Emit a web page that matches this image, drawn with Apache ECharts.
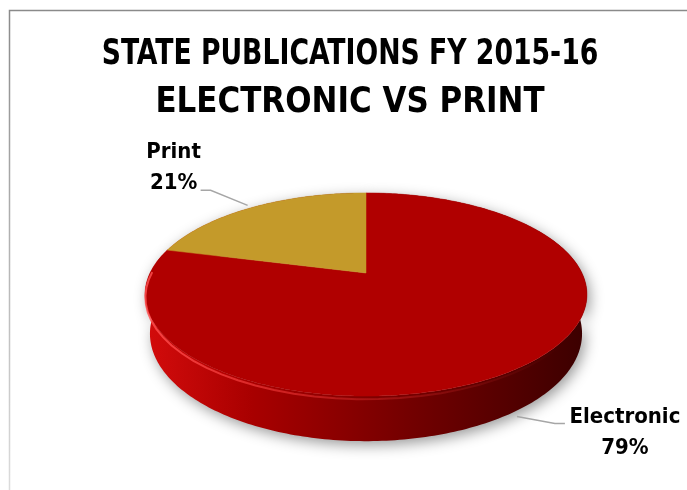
<!DOCTYPE html>
<html>
<head>
<meta charset="utf-8">
<title>State Publications FY 2015-16</title>
<style>
  * { margin: 0; padding: 0; }
  html, body { width: 100%; height: 100%; background: #fff; }
  #pie { width: 687px; height: 490px; }
</style>
</head>
<body>
<div id="pie"></div>
<script src="https://cdn.jsdelivr.net/npm/echarts@6/dist/echarts.min.js"></script>
<script>
var categories = ['Electronic', 'Print'];
var shares = [79, 21];
var titleLines = ['STATE PUBLICATIONS FY 2015-16', 'ELECTRONIC VS PRINT'];

var FONT = "'Liberation Sans Narrow', 'DejaVu Sans Condensed', 'Liberation Sans', sans-serif";
var sliceColors = { Electronic: '#b00000', Print: '#c49a2a' };

// perspective of the tilted disc (fitted by eye to the excel picture)
var cam = { cx: 366, cy: 273, f: 911, D: 4.219, elev: 26.7 * Math.PI / 180, thick: 0.203 };

// label leader layout: nudge from rim point, then elbow, tail, text centre
var labelLayout = {
  Electronic: { onSide: true, nudge: [-4, 8], elbow: [38, 7], tail: [10, 0], text: [60, 9] },
  Print: { onSide: false, nudge: [-5, -2], elbow: [-37, -15], tail: [-10, 0], text: [-27, -23] }
};

// calibri is narrower than any installed font, so each title line gets squeezed
var titleSqueeze = [0.824, 0.956];

function project(u, h, w) {
  var s = Math.sin(cam.elev), c = Math.cos(cam.elev);
  var d = cam.D + h * s - w * c;
  return [cam.cx + cam.f * u / d, cam.cy + cam.f * (w * s + h * c) / d];
}
// angle is clockwise from 12 o'clock like excel
function rim(theta, h) {
  return project(Math.sin(theta), h, -Math.cos(theta));
}

var total = shares.reduce(function (a, b) { return a + b; }, 0);
var starts = [];
shares.reduce(function (acc, v, i) { starts[i] = acc; return acc + v; }, 0);

function renderSlice(params, api) {
  var i = params.dataIndex;
  var name = categories[i];
  var a0 = starts[i] / total * Math.PI * 2;
  var a1 = (starts[i] + api.value(0)) / total * Math.PI * 2;
  var n = Math.max(8, Math.round((a1 - a0) * 60));
  var top = [project(0, 0, 0)], upper = [], lower = [];
  for (var k = 0; k <= n; k++) {
    var t = a0 + (a1 - a0) * k / n;
    top.push(rim(t, 0));
    upper.push(rim(t, 0));
    lower.unshift(rim(t, cam.thick));
  }
  var children = [];
  children.push({
    type: 'polygon', z2: 1,
    shape: { points: upper.concat(lower) },
    style: {
      fill: new echarts.graphic.LinearGradient(140, 0, 590, 0, [
        { offset: 0, color: '#d60c0c' },
        { offset: 0.25, color: '#a80000' },
        { offset: 0.6, color: '#730000' },
        { offset: 1, color: '#3a0000' }
      ], true),
      shadowBlur: 14, shadowColor: 'rgba(0,0,0,0.4)', shadowOffsetX: 3, shadowOffsetY: 4
    }
  });
  children.push({
    type: 'polygon', z2: 10,
    shape: { points: top },
    style: { fill: sliceColors[name], stroke: sliceColors[name], lineWidth: 0.5 }
  });

  // front bevel highlight
  var hl = [];
  var b0 = Math.max(a0, 1.6), b1 = Math.min(a1, 4.75);
  if (b1 > b0) {
    for (var j = 0; j <= 40; j++) hl.push(rim(b0 + (b1 - b0) * j / 40, 0.014));
    children.push({
      type: 'polyline', z2: 11,
      shape: { points: hl },
      style: {
        fill: null, lineWidth: 2,
        stroke: new echarts.graphic.LinearGradient(140, 0, 560, 0, [
          { offset: 0, color: 'rgba(255,80,80,0.85)' },
          { offset: 0.5, color: 'rgba(255,60,60,0.35)' },
          { offset: 1, color: 'rgba(255,60,60,0)' }
        ], true)
      }
    });
  }

  // label with leader line
  var lay = labelLayout[name];
  var mid = (a0 + a1) / 2;
  var p = rim(mid, lay.onSide ? cam.thick : 0);
  var p0 = [p[0] + lay.nudge[0], p[1] + lay.nudge[1]];
  var p1 = [p0[0] + lay.elbow[0], p0[1] + lay.elbow[1]];
  var p2 = [p1[0] + lay.tail[0], p1[1] + lay.tail[1]];
  children.push({
    type: 'polyline', z2: 20,
    shape: { points: [p0, p1, p2] },
    style: { fill: null, stroke: '#a6a6a6', lineWidth: 1.5 }
  });
  children.push({
    type: 'text', z2: 20,
    x: p2[0] + lay.text[0], y: p2[1] + lay.text[1],
    style: {
      text: name + '\n' + Math.round(api.value(0) / total * 100) + '%',
      fill: '#000', font: 'bold 22px ' + FONT, lineHeight: 31,
      align: 'center', verticalAlign: 'middle'
    }
  });
  return { type: 'group', children: children };
}

var graphics = [{
  type: 'polyline',
  shape: { points: [[9.5, 490], [9.5, 10.5], [687, 10.5]] },
  style: {
    fill: null, lineWidth: 1.5,
    stroke: new echarts.graphic.LinearGradient(0, 10, 0, 490, [
      { offset: 0, color: '#8a8a8a' },
      { offset: 1, color: '#dcdcdc' }
    ], true)
  }
}];
titleLines.forEach(function (line, i) {
  graphics.push({
    type: 'text', x: 350, y: 55 + i * 48, scaleX: titleSqueeze[i],
    style: {
      text: line, fill: '#000', font: 'bold 36px ' + FONT,
      align: 'center', verticalAlign: 'middle'
    }
  });
});

var chart = echarts.init(document.getElementById('pie'));
chart.setOption({
  animation: false,
  graphic: graphics,
  series: [{
    type: 'custom',
    coordinateSystem: 'none',
    silent: true,
    renderItem: renderSlice,
    data: categories.map(function (c, i) { return { name: c, value: shares[i] }; })
  }]
});
</script>
</body>
</html>
